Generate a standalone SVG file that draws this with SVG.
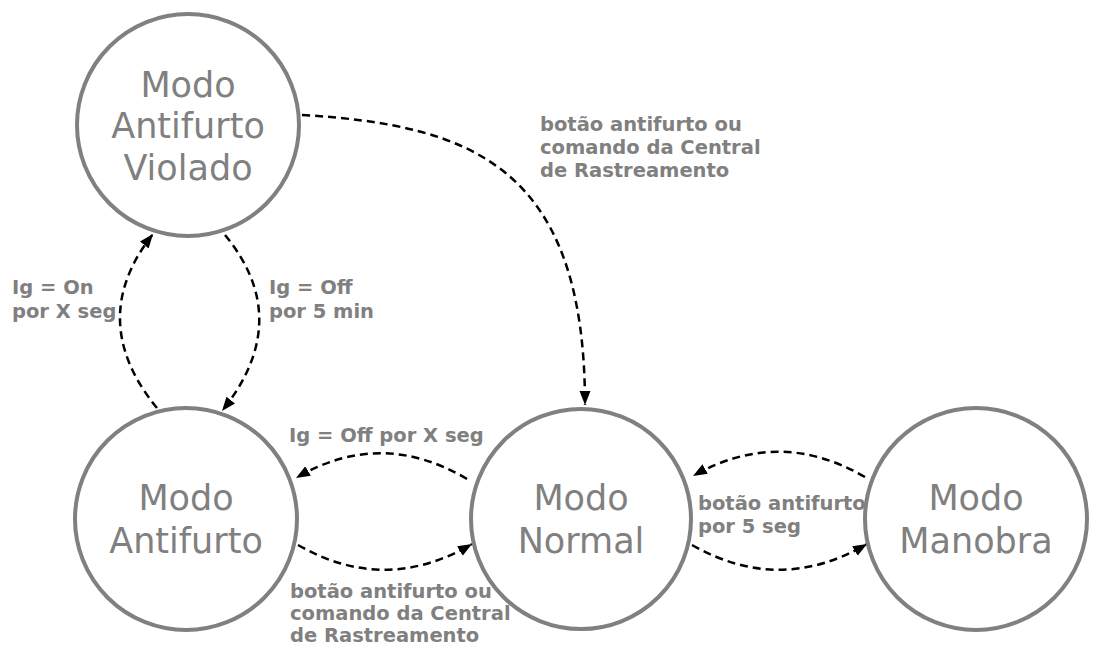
<svg xmlns="http://www.w3.org/2000/svg" width="1111" height="648" viewBox="0 0 1111 648">
<style>
.state{fill:#fff;stroke:#808080;stroke-width:4}
.st{font-family:"DejaVu Sans",Verdana,sans-serif;font-size:35px;fill:#808080;text-anchor:middle}
.lbl{font-family:"DejaVu Sans",Verdana,sans-serif;font-size:19.5px;font-weight:bold;fill:#808080}
.edge{fill:none;stroke:#000;stroke-width:2.5;stroke-dasharray:8,5;marker-end:url(#arr)}
</style>
<defs>
<marker id="arr" markerUnits="userSpaceOnUse" markerWidth="15" markerHeight="12" refX="14" refY="5.5" orient="auto">
<path d="M0,0 L14,5.5 L0,11 z" fill="#000"/>
</marker>
</defs>
<rect width="1111" height="648" fill="#fff"/>
<g id="connectors">
<path class="edge" d="M302,115 C470,125 585,165 585,405"/>
<path class="edge" d="M157,408 Q85,320 153,234"/>
<path class="edge" d="M225,235 Q295,320 222,411"/>
<path class="edge" d="M467,479 Q381,428 296,478"/>
<path class="edge" d="M298,545 Q385,595 472,544"/>
<path class="edge" d="M865,477 Q779,427 693,476"/>
<path class="edge" d="M692,545 Q780,595 867,544"/>
</g>
<g id="labels">
<text class="lbl" x="12" y="294">Ig = On</text>
<text class="lbl" x="12" y="318">por X seg</text>
<text class="lbl" x="269" y="294">Ig = Off</text>
<text class="lbl" x="269" y="318">por 5 min</text>
<text class="lbl" x="540" y="131">botão antifurto ou</text>
<text class="lbl" x="540" y="154">comando da Central</text>
<text class="lbl" x="540" y="177">de Rastreamento</text>
<text class="lbl" x="289" y="442">Ig = Off por X seg</text>
<text class="lbl" x="290" y="598">botão antifurto ou</text>
<text class="lbl" x="290" y="620">comando da Central</text>
<text class="lbl" x="290" y="642">de Rastreamento</text>
<text class="lbl" x="698" y="510">botão antifurto</text>
<text class="lbl" x="698" y="533">por 5 seg</text>
</g>
<g id="violado">
<circle class="state" cx="188" cy="125" r="111"/>
<text class="st" x="188" y="97">Modo</text>
<text class="st" x="188" y="138">Antifurto</text>
<text class="st" x="188" y="180">Violado</text>
</g>
<g id="antifurto">
<circle class="state" cx="186" cy="519" r="111"/>
<text class="st" x="186" y="510">Modo</text>
<text class="st" x="186" y="553">Antifurto</text>
</g>
<g id="normal">
<circle class="state" cx="581" cy="519" r="110"/>
<text class="st" x="581" y="510">Modo</text>
<text class="st" x="581" y="553">Normal</text>
</g>
<g id="manobra">
<circle class="state" cx="976" cy="519" r="111"/>
<text class="st" x="976" y="510">Modo</text>
<text class="st" x="976" y="553">Manobra</text>
</g>
</svg>
